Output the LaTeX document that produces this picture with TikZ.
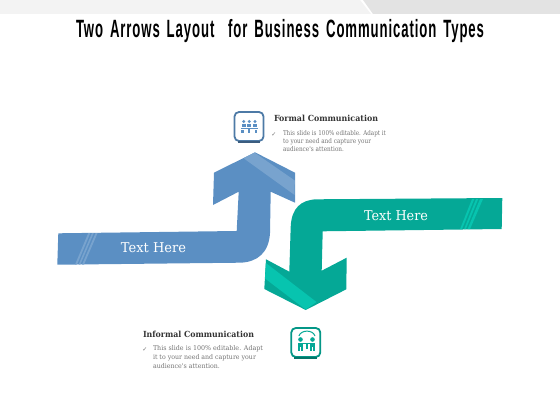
\documentclass[tikz,border=0pt]{standalone}
\usepackage{fontspec}
\setmainfont{Liberation Serif}
\newfontfamily\titlefont[LetterSpace=7,WordSpace=1.5]{Liberation Sans}
\newfontfamily\slabfont{DejaVu Serif}
\newfontfamily\symfont{DejaVu Sans}
\definecolor{bluearrow}{HTML}{5B8FC3}
\definecolor{bluelight}{HTML}{78A3CE}
\definecolor{tealarrow}{HTML}{05A896}
\definecolor{teallight}{HTML}{07C4AF}
\definecolor{bodygray}{HTML}{737373}
\definecolor{headgray}{HTML}{333333}
\definecolor{bandlight}{HTML}{F3F3F3}
\definecolor{banddark}{HTML}{E3E3E3}
\newcommand{\fitw}[2]{\resizebox{#1pt}{\height}{#2}}
\tikzset{
  lbl/.style={inner sep=0pt,outer sep=0pt,anchor=west},
  bodytxt/.style={lbl,text=bodygray,font=\slabfont\fontsize{6.6}{7}\selectfont},
  headtxt/.style={lbl,text=headgray,font=\slabfont\bfseries\fontsize{8.4}{9}\selectfont},
  arrowtxt/.style={inner sep=0pt,text=white,font=\slabfont\fontsize{13.5}{15}\selectfont},
  chk/.style={inner sep=0pt,text=bodygray,font=\symfont\fontsize{6}{7}\selectfont},
  iconbox/.style={draw=#1,fill=white,line width=1.8pt,rounded corners=4.5pt},
}
\begin{document}
\begin{tikzpicture}[x=1pt,y=-1pt]
\useasboundingbox (0,0) rectangle (560,420);
% top band
\fill[bandlight] (0,0) -- (360,0) -- (371,14) -- (0,14) -- cycle;
\fill[banddark] (363,0) -- (560,0) -- (560,14) -- (373,14) -- cycle;
% title
\node[inner sep=0pt] (title) at (280,31) {\fitw{408}{\titlefont\bfseries\fontsize{25}{28}\selectfont Two Arrows Layout\ \ for Business Communication Types}};
% blue arrow
\fill[bluearrow] (58.3,233.3) -- (236.7,231) -- (238.7,191.7) -- (213,205) -- (214,172.7) -- (255,152.3) -- (295,172.7) -- (295,202.7) -- (270.7,191.7) -- (270,233)
  .. controls (269,252) and (258,262.2) .. (240,262.7) -- (57.3,264.7) -- cycle;
\fill[bluelight] (243.5,158.2) -- (254.5,152.6) -- (294.8,180.5) -- (294.6,195) -- cycle;
\foreach \a/\b/\c/\d in {75/77/88.3/90.3, 78.6/80.3/92/93.8, 82/84/95.6/97.6}
  \fill[bluelight] (\a,264.6) -- (\b,264.6) -- (\d,233) -- (\c,233) -- cycle;
\node[arrowtxt] (t1) at (153.5,248) {\fitw{65}{Text Here}};
% teal arrow
\fill[tealarrow] (502.3,198) -- (501.7,229) -- (322.7,231.3) -- (321.7,270.7) -- (346.7,257.7) -- (346.3,289.3) -- (305.7,310) -- (264.3,289) -- (266,259.3) -- (289.3,271.7) -- (290.7,226.7)
  .. controls (291.5,208) and (301,199.8) .. (316.7,199.3) -- cycle;
\fill[teallight] (265.9,263) -- (316.5,302) -- (305.7,309.6) -- (265,278.5) -- cycle;
\foreach \a/\b/\c/\d in {460/462/472/474.3, 464/465.8/476/478.2, 467.5/470/480/483}
  \fill[teallight] (\a,229.2) -- (\b,229.2) -- (\d,199) -- (\c,199) -- cycle;
\node[arrowtxt] (t2) at (396,216) {\fitw{64}{Text Here}};
% blue icon
\node[iconbox=bluearrow!85!black,minimum width=29pt,minimum height=29pt,inner sep=0pt] (ic1) at (249,126.5) {};
\draw[bluearrow!65!black,line width=1.8pt] ([xshift=4pt]ic1.south west) -- ([xshift=-4pt]ic1.south east);
\foreach \x in {243.7,249.3,255}{
  \fill[bluearrow] (\x,121.5) circle (1.6pt);
  \fill[bluearrow] (\x-2,123.8) rectangle (\x+2,127.2);
}
\fill[bluearrow] (241,127.6) rectangle (257.5,129);
\fill[bluearrow] (241.2,129.5) rectangle (244,133.4);
\fill[bluearrow] (254.5,129.5) rectangle (257.3,133.4);
\fill[bluearrow] (248.2,129) rectangle (250.4,133.4);
% teal icon
\node[iconbox=tealarrow!90!black,minimum width=29pt,minimum height=29pt,inner sep=0pt] (ic2) at (305.8,342.5) {};
\draw[tealarrow!70!black,line width=1.8pt] ([xshift=4pt]ic2.south west) -- ([xshift=-4pt]ic2.south east);
\draw[tealarrow,line width=1pt] (298.9,336) .. controls (301,329.5) and (313,329.5) .. (315,336);
\foreach \x/\s in {300.5/1,312.5/-1}{
  \fill[tealarrow] (\x,339.5) circle (2.3pt);
  \fill[tealarrow] (\x-2.6,342.5) rectangle (\x+2.6,347);
  \fill[tealarrow] (\x-2.6,347) rectangle (\x-0.6,351);
  \fill[tealarrow] (\x+0.6,347) rectangle (\x+2.6,351);
}
\fill[tealarrow] (303,342.5) rectangle (310.5,344.4);
\fill[tealarrow] (305.9,344.2) rectangle (307.7,349);
% formal text
\node[headtxt] (h1) at (274,118) {\fitw{104}{Formal Communication}};
\node[chk] (c1) at (274,134.5) {✓};
\node[bodytxt] (b1a) at (283,134) {\fitw{103}{This slide is 100\% editable. Adapt it}};
\node[bodytxt] (b1b) at (283,141.8) {\fitw{88}{to your need and capture your}};
\node[bodytxt] (b1c) at (283,149.2) {\fitw{61}{audience's attention.}};
% informal text
\node[headtxt] (h2) at (143,334) {\fitw{111}{Informal Communication}};
\node[chk] (c2) at (145,349.5) {✓};
\node[bodytxt] (b2a) at (153,349) {\fitw{110}{This slide is 100\% editable. Adapt}};
\node[bodytxt] (b2b) at (153,357.5) {\fitw{103}{it to your need and capture your}};
\node[bodytxt] (b2c) at (153,366) {\fitw{67}{audience's attention.}};
\end{tikzpicture}
\end{document}
